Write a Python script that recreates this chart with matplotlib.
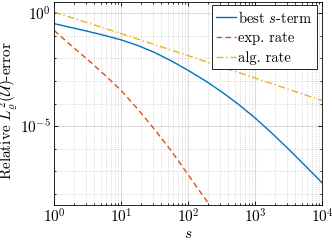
import matplotlib.pyplot as plt
from matplotlib.ticker import LogLocator, NullFormatter, FixedLocator
import numpy as np

plt.rcParams['font.family'] = 'cmr10'
plt.rcParams['mathtext.fontset'] = 'cm'
plt.rcParams['axes.formatter.use_mathtext'] = True
plt.rcParams['font.size'] = 10

# values (log10 of s, log10 of error)
best_logs = [0, 0.25, 0.5, 0.75, 1.0, 1.25, 1.5, 1.75, 2.0, 2.25, 2.5, 2.75, 3.0, 3.25, 3.5, 3.75, 4.0]
best_loge = [-0.46, -0.63, -0.80, -0.98, -1.18, -1.43, -1.74, -2.11, -2.53, -2.98, -3.48, -4.03, -4.64, -5.31, -6.02, -6.76, -7.51]

exp_logs = [0, 0.25, 0.5, 0.75, 1.0, 1.25, 1.5, 1.75, 2.0, 2.25, 2.45]
exp_loge = [-0.76, -1.42, -2.05, -2.72, -3.42, -4.25, -5.15, -6.10, -7.15, -8.20, -9.0]

alg_logs = [0, 1, 2, 3, 4]
alg_loge = [0.05, -0.90, -1.88, -2.87, -3.87]

blue = '#0072BD'
orange = '#D95319'
yellow = '#EDB120'

fig = plt.figure(figsize=(3.32, 2.43), dpi=100)
ax = fig.add_axes([0.163, 0.156, 0.807, 0.836])

ax.plot(10**np.array(best_logs), 10**np.array(best_loge), color=blue, lw=1.0, label='best $s$-term')
ax.plot(10**np.array(exp_logs), 10**np.array(exp_loge), color=orange, lw=1.0, ls=(0, (4, 2.5)), label='exp. rate')
ax.plot(10**np.array(alg_logs), 10**np.array(alg_loge), color=yellow, lw=1.0, ls=(0, (5, 2, 1, 2)), label='alg. rate')

ax.set_xscale('log')
ax.set_yscale('log')
ax.set_xlim(1, 1e4)
ax.set_ylim(10**-8.5, 10**0.5)

ax.yaxis.set_major_locator(FixedLocator([1e-5, 1e0]))
ax.yaxis.set_minor_locator(FixedLocator([10.0**k for k in range(-8, 1)]))
ax.yaxis.set_minor_formatter(NullFormatter())
ax.xaxis.set_major_locator(LogLocator(base=10, numticks=10))
ax.xaxis.set_minor_locator(LogLocator(base=10, subs=np.arange(2, 10), numticks=20))
ax.xaxis.set_minor_formatter(NullFormatter())

ax.grid(True, which='major', color='#dcdcdc', lw=0.8, ls='-')
ax.grid(True, which='minor', color='#c8c8c8', lw=0.6, ls=':')
ax.set_axisbelow(True)

ax.tick_params(which='both', direction='in', top=True, right=True, width=0.6)
ax.tick_params(which='major', length=3, pad=2)
ax.tick_params(which='minor', length=1.5)
ax.tick_params(labelsize=11)
for sp in ax.spines.values():
    sp.set_linewidth(0.6)

ax.set_xlabel('$s$', fontsize=11, labelpad=1)
ax.set_ylabel(r'Relative $L^2_\varrho(\mathcal{U})$-error', fontsize=11)
ax.yaxis.set_label_coords(-0.127, 0.468)

leg = ax.legend(loc='upper right', bbox_to_anchor=(0.980, 0.984), fontsize=10.5,
                fancybox=False, edgecolor='black', framealpha=1, borderpad=0.3,
                labelspacing=0.4, handlelength=1.35, handletextpad=0.15, borderaxespad=0)
leg.get_frame().set_linewidth(0.6)

fig.savefig('out.png', dpi=100)
